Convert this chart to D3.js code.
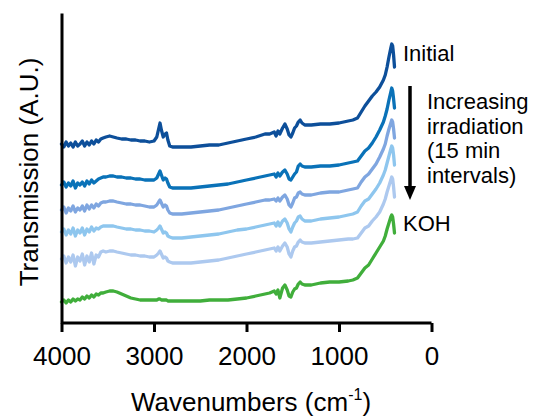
<!DOCTYPE html>
<html>
<head>
<meta charset="utf-8">
<script src="https://cdn.jsdelivr.net/npm/d3@7"></script>
<style>
  html, body { margin: 0; padding: 0; background: #fff; }
  svg text { font-family: "Liberation Sans", Arial, sans-serif; fill: #000; }
</style>
</head>
<body>
<svg id="chart" width="533" height="418"></svg>
<script>
// IR spectra: wavenumber grid (cm-1) shared by all traces
const wavenumbers = [
  4000, 3975, 3950, 3925, 3900, 3875, 3850, 3825, 3800, 3775, 3750, 3725, 3700, 3675, 3650, 3625, 3600, 3575, 3550,
  3520, 3480, 3440, 3400,
  3350, 3300, 3250, 3200, 3150, 3100, 3050, 3000,
  2970, 2950, 2935, 2920, 2900, 2880, 2865, 2850, 2830,
  2800, 2700, 2600, 2500, 2400, 2300, 2200, 2100, 2000, 1900, 1800,
  1750, 1700, 1680, 1660, 1640, 1610, 1585, 1560, 1540, 1520, 1500, 1480, 1460, 1440, 1420, 1400, 1370,
  1300, 1200, 1100, 1000, 900, 850, 800, 760, 720, 680, 640, 600, 560, 520, 500, 480, 460, 440, 430, 420, 410, 400
];

// Offset transmission traces (A.U.), top to bottom
const initial = [
  17.9, 17.6, 18.1, 17.7, 18.0, 17.6, 18.1, 17.7, 17.9, 18.2, 17.7, 18.1, 17.8, 18.2, 17.9, 18.3, 18.1, 18.4, 18.5,
  18.6, 18.7, 18.6, 18.5,
  18.4, 18.4, 18.3, 18.3, 18.2, 18.2, 18.1, 18.2,
  18.6, 19.4, 20.0, 19.3, 18.6, 18.9, 19.0, 18.3, 17.7,
  17.6, 17.6, 17.6, 17.7, 17.8, 17.8, 18.0, 18.2, 18.4, 18.6, 18.9,
  18.9, 19.1, 18.7, 19.2, 18.9, 19.5, 19.9, 19.4, 18.8, 18.6, 19.0, 19.5, 19.7, 20.1, 20.3, 20.0, 19.8,
  19.8, 19.9, 19.9, 20.0, 20.2, 20.3, 20.5, 21.1, 21.7, 22.2, 22.7, 23.1, 23.6, 24.3, 24.8, 25.6, 26.6, 27.5, 27.9, 27.7, 26.8, 25.6
];
const irradiated1 = [
  13.8, 14.1, 13.6, 14.0, 13.7, 14.2, 13.5, 14.0, 13.8, 14.1, 13.7, 14.2, 13.9, 14.3, 14.0, 14.2, 14.4, 14.5, 14.6,
  14.6, 14.7, 14.7, 14.6,
  14.6, 14.5, 14.5, 14.4, 14.4, 14.3, 14.3, 14.3,
  14.5, 14.9, 15.2, 14.8, 14.3, 14.5, 14.4, 14.0, 13.6,
  13.5, 13.5, 13.5, 13.6, 13.7, 13.8, 13.9, 14.1, 14.3, 14.5, 14.7,
  14.8, 14.9, 14.6, 15.0, 14.7, 15.1, 15.3, 14.9, 14.4, 14.3, 14.6, 14.9, 15.1, 15.7, 15.9, 15.7, 15.6,
  15.6, 15.7, 15.7, 15.8, 16.0, 16.1, 16.2, 16.7, 17.2, 17.5, 18.0, 18.6, 19.3, 20.1, 20.7, 21.4, 22.3, 23.1, 23.5, 23.2, 22.4, 21.5
];
const irradiated2 = [
  11.3, 11.6, 11.0, 11.5, 11.2, 11.7, 11.1, 11.5, 11.3, 11.7, 11.2, 11.8, 11.4, 11.8, 11.5, 11.9, 11.7, 12.0, 12.1,
  12.1, 12.2, 12.2, 12.1,
  12.0, 11.9, 11.9, 11.8, 11.8, 11.7, 11.6, 11.6,
  11.8, 12.1, 12.3, 12.0, 11.6, 11.8, 11.7, 11.3, 11.0,
  10.9, 10.9, 11.0, 11.1, 11.2, 11.3, 11.5, 11.7, 11.9, 12.1, 12.3,
  12.3, 12.4, 12.2, 12.5, 12.2, 12.6, 12.8, 12.4, 11.8, 11.6, 12.0, 12.5, 12.6, 13.0, 13.1, 12.9, 12.8,
  12.8, 13.0, 13.1, 13.1, 13.3, 13.4, 13.5, 14.1, 14.6, 14.9, 15.4, 15.9, 16.6, 17.4, 17.9, 18.7, 19.4, 20.0, 20.3, 20.1, 19.4, 18.5
];
const irradiated3 = [
  9.1, 9.4, 8.8, 9.3, 8.9, 9.5, 8.7, 9.3, 9.0, 9.5, 8.8, 9.4, 9.1, 9.6, 9.2, 9.5, 9.4, 9.6, 9.7,
  9.7, 9.7, 9.7, 9.6,
  9.5, 9.4, 9.4, 9.3, 9.3, 9.2, 9.2, 9.1,
  9.3, 9.5, 9.7, 9.4, 9.0, 9.1, 9.0, 8.7, 8.6,
  8.5, 8.5, 8.6, 8.7, 8.8, 8.9, 9.1, 9.3, 9.4, 9.6, 9.8,
  9.9, 10.0, 9.7, 10.1, 9.7, 10.2, 10.4, 10.0, 9.4, 9.1, 9.6, 10.0, 10.2, 10.6, 10.7, 10.4, 10.2,
  10.2, 10.4, 10.5, 10.6, 10.8, 10.9, 11.1, 11.7, 12.2, 12.4, 12.9, 13.4, 14.0, 14.8, 15.3, 16.0, 16.7, 17.4, 17.7, 17.5, 16.8, 15.8
];
const irradiated4 = [
  6.4, 6.7, 6.0, 6.6, 6.1, 6.8, 5.7, 6.6, 6.2, 6.9, 5.8, 6.7, 6.1, 7.0, 5.9, 6.8, 6.6, 7.1, 7.2,
  7.1, 7.2, 7.2, 7.1,
  7.0, 6.9, 6.8, 6.8, 6.7, 6.7, 6.6, 6.6,
  6.8, 7.0, 7.2, 6.9, 6.5, 6.6, 6.5, 6.2, 6.1,
  6.0, 6.0, 6.0, 6.1, 6.2, 6.3, 6.5, 6.7, 6.9, 7.1, 7.3,
  7.4, 7.5, 7.2, 7.6, 7.2, 7.7, 8.0, 7.6, 6.9, 6.6, 7.2, 7.6, 7.7, 8.1, 8.3, 8.1, 8.0,
  8.0, 8.1, 8.2, 8.3, 8.4, 8.4, 8.5, 9.0, 9.5, 9.7, 10.2, 10.6, 11.1, 11.9, 12.4, 13.1, 13.7, 14.3, 14.6, 14.4, 13.6, 12.6
];
const koh = [
  2.1, 2.3, 2.0, 2.3, 2.1, 2.4, 2.2, 2.4, 2.3, 2.6, 2.4, 2.7, 2.5, 2.8, 2.6, 2.9, 2.8, 3.0, 3.0,
  3.1, 3.2, 3.2, 3.1,
  2.9, 2.7, 2.5, 2.4, 2.3, 2.3, 2.3, 2.3,
  2.3, 2.4, 2.4, 2.3, 2.3, 2.3, 2.3, 2.2, 2.2,
  2.2, 2.2, 2.2, 2.2, 2.3, 2.3, 2.3, 2.4, 2.5, 2.7, 2.9,
  3.0, 3.2, 2.9, 3.3, 2.5, 3.5, 3.8, 3.3, 2.7, 2.6, 3.1, 3.4, 3.5, 3.9, 4.1, 3.9, 3.8,
  3.8, 4.0, 4.1, 4.1, 4.2, 4.3, 4.5, 5.0, 5.5, 5.8, 6.4, 7.0, 7.6, 8.2, 8.7, 9.4, 10.0, 10.6, 10.8, 10.6, 9.9, 9.0
];

const seriesNames = ["Initial", "15 min", "30 min", "45 min", "60 min", "KOH"];
const seriesValues = [initial, irradiated1, irradiated2, irradiated3, irradiated4, koh];
const seriesColors = ["#0d4f9a", "#0a72b8", "#7fa6e0", "#8ec6ee", "#adc9ef", "#40ae3b"];

const xTicks = [4000, 3000, 2000, 1000, 0];
const annotationLines = ["Increasing", "irradiation", "(15 min", "intervals)"];

const svg = d3.select("#chart");
const margin = { left: 61.5, right: 101.5, top: 13, bottom: 95 };
const W = 533, H = 418;

const x = d3.scaleLinear().domain([4000, 0]).range([margin.left, W - margin.right]);
const y = d3.scaleLinear().domain([0, 31]).range([H - margin.bottom, margin.top]);

// spectra
const line = d3.line()
  .x((d, i) => x(wavenumbers[i]))
  .y(d => y(d));

svg.append("g")
  .selectAll("path")
  .data(seriesValues)
  .join("path")
  .attr("d", d => line(d))
  .attr("fill", "none")
  .attr("stroke", (d, i) => seriesColors[i])
  .attr("stroke-width", 3.3)
  .attr("stroke-linejoin", "round")
  .attr("stroke-linecap", "round");

// x axis
const xAxis = svg.append("g")
  .attr("transform", `translate(0,${y(0)})`)
  .call(d3.axisBottom(x).tickValues(xTicks).tickSize(9).tickPadding(15).tickFormat(d3.format("d")));
xAxis.select(".domain").attr("stroke", "#000").attr("stroke-width", 3)
  .attr("d", `M${x(4000)},0H${x(0)}`);
xAxis.selectAll(".tick line").attr("stroke", "#000").attr("stroke-width", 3);
xAxis.selectAll(".tick text").attr("font-size", 26).attr("font-family", "Liberation Sans, Arial, sans-serif");

// y axis (no ticks)
const yAxis = svg.append("g")
  .attr("transform", `translate(${x(4000)},0)`)
  .call(d3.axisLeft(y).tickValues([]).tickSizeOuter(0));
yAxis.select(".domain").attr("stroke", "#000").attr("stroke-width", 3);

// axis titles
const xTitle = svg.append("text")
  .attr("x", 251)
  .attr("y", 411)
  .attr("text-anchor", "middle")
  .attr("font-size", 26);
xTitle.append("tspan").text("Wavenumbers (cm");
xTitle.append("tspan").attr("font-size", 16).attr("dy", -11).text("-1");
xTitle.append("tspan").attr("dy", 11).text(")");

svg.append("text")
  .attr("transform", "translate(38,172) rotate(-90)")
  .attr("text-anchor", "middle")
  .attr("font-size", 26)
  .text("Transmission (A.U.)");

// series labels
svg.append("text")
  .attr("x", 403).attr("y", 61)
  .attr("font-size", 22)
  .text(seriesNames[0]);
svg.append("text")
  .attr("x", 403).attr("y", 231)
  .attr("font-size", 22)
  .text(seriesNames[5]);

// irradiation arrow + note
svg.append("line")
  .attr("x1", 410).attr("x2", 410)
  .attr("y1", 86).attr("y2", 188)
  .attr("stroke", "#000").attr("stroke-width", 3.5);
svg.append("path")
  .attr("d", "M404,186 L416,186 L410,200 Z")
  .attr("fill", "#000");

svg.append("text")
  .attr("x", 427).attr("y", 109)
  .attr("font-size", 22)
  .selectAll("tspan")
  .data(annotationLines)
  .join("tspan")
  .attr("x", 427)
  .attr("dy", (d, i) => i === 0 ? 0 : 24.5)
  .text(d => d);
</script>
</body>
</html>
